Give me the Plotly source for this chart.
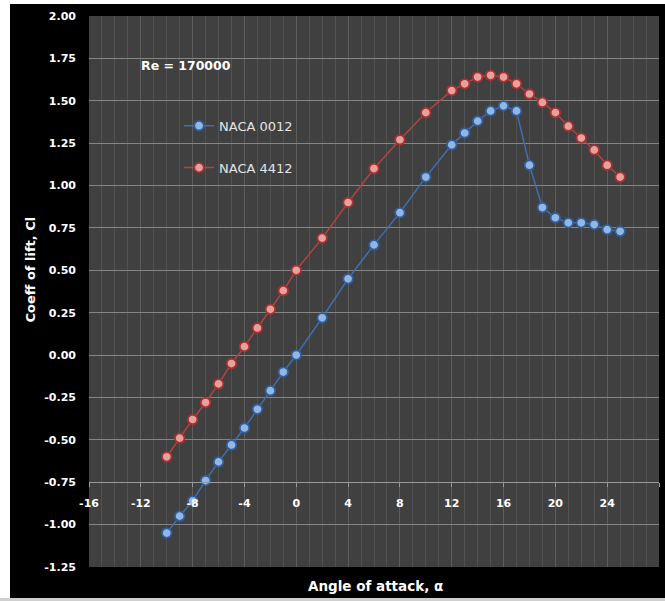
import plotly.graph_objects as go

# Angle of attack (degrees) and lift coefficient for the two airfoils, Re = 170000
aoa = [-10, -9, -8, -7, -6, -5, -4, -3, -2, -1, 0, 2, 4, 6, 8, 10, 12,
       13, 14, 15, 16, 17, 18, 19, 20, 21, 22, 23, 24, 25]

cl_naca0012 = [-1.05, -0.95, -0.86, -0.74, -0.63, -0.53, -0.43, -0.32, -0.21, -0.10,
               0.00, 0.22, 0.45, 0.65, 0.84, 1.05, 1.24,
               1.31, 1.38, 1.44, 1.47, 1.44, 1.12, 0.87, 0.81, 0.78, 0.78, 0.77, 0.74, 0.73]

cl_naca4412 = [-0.60, -0.49, -0.38, -0.28, -0.17, -0.05, 0.05, 0.16, 0.27, 0.38,
               0.50, 0.69, 0.90, 1.10, 1.27, 1.43, 1.56,
               1.60, 1.64, 1.65, 1.64, 1.60, 1.54, 1.49, 1.43, 1.35, 1.28, 1.21, 1.12, 1.05]

x_ticks = [-16, -12, -8, -4, 0, 4, 8, 12, 16, 20, 24, 28]
y_ticks = [-1.25, -1.00, -0.75, -0.50, -0.25, 0.00, 0.25, 0.50, 0.75, 1.00, 1.25, 1.50, 1.75, 2.00]

X_RANGE = [-16, 28]
Y_RANGE = [-1.25, 2.00]
X_AXIS_CROSS = -0.75  # horizontal axis crosses the value axis here

W, H = 665, 601
ML, MR, MT, MB = 89, 6, 16, 34
PW, PH = W - ML - MR, H - MT - MB

FONT = "DejaVu Sans"

fig = go.Figure()

fig.add_trace(go.Scatter(
    x=aoa, y=cl_naca0012, name="NACA 0012", mode="lines+markers",
    line=dict(color="#3f6fae", width=1.5),
    marker=dict(symbol="circle", size=9.5, color="#93b6e2",
                line=dict(color="#2f5f9f", width=1.8)),
    legendgroup="a",
))
fig.add_trace(go.Scatter(
    x=aoa, y=cl_naca4412, name="NACA 4412", mode="lines+markers",
    line=dict(color="#b2433f", width=1.5),
    marker=dict(symbol="circle", size=9.5, color="#e6a09d",
                line=dict(color="#a8322f", width=1.8)),
    legendgroup="b",
))

cross_pos = (X_AXIS_CROSS - Y_RANGE[0]) / (Y_RANGE[1] - Y_RANGE[0])

fig.update_layout(
    width=W, height=H,
    margin=dict(l=ML, r=MR, t=MT, b=MB),
    paper_bgcolor="black",
    plot_bgcolor="#404040",
    font=dict(family=FONT, color="white", size=11),
    showlegend=True,
    legend=dict(
        x=0.158, y=0.828, xanchor="left", yanchor="top",
        bgcolor="rgba(0,0,0,0)",
        font=dict(family=FONT, size=13, color="#e4e4e4"),
        tracegroupgap=22, itemwidth=30,
    ),
    xaxis=dict(
        range=X_RANGE, tickvals=x_ticks, ticktext=[str(v) for v in x_ticks],
        anchor="free", position=cross_pos,
        showgrid=True, gridcolor="#5e5e5e", gridwidth=1,
        minor=dict(dtick=1, showgrid=True, gridcolor="#525252", gridwidth=1),
        showline=True, linecolor="#9a9a9a", linewidth=1,
        ticks="outside", ticklen=4, tickcolor="#9a9a9a",
        ticklabelstandoff=7,
        tickfont=dict(family=FONT, size=11, color="white", weight="bold"),
        zeroline=False, fixedrange=True,
    ),
    yaxis=dict(
        range=Y_RANGE, tickvals=y_ticks, ticktext=[f"{v:.2f}" for v in y_ticks],
        showgrid=True, gridcolor="#858585", gridwidth=1,
        showline=False, ticks="",
        ticklabelstandoff=12,
        tickfont=dict(family=FONT, size=11, color="white", weight="bold"),
        zeroline=False, fixedrange=True,
    ),
)

fig.add_annotation(
    text="Re = 170000", xref="paper", yref="paper", x=0.088, y=0.91,
    xanchor="left", yanchor="middle", showarrow=False,
    font=dict(family=FONT, size=12.5, color="white", weight="bold"),
)
fig.add_annotation(
    text="Angle of attack, α", xref="paper", yref="paper", x=0.502, y=-0.016,
    xanchor="center", yanchor="top", showarrow=False,
    font=dict(family=FONT, size=13.5, color="white", weight="bold"),
)
fig.add_annotation(
    text="Coeff of lift, Cl", xref="paper", yref="paper", x=-0.1035, y=0.54,
    xanchor="center", yanchor="middle", textangle=-90, showarrow=False,
    font=dict(family=FONT, size=13, color="white", weight="bold"),
)

# white page edge around the black chart frame (kept inside the figure bounds)
px = lambda v: (v - ML) / PW
py = lambda v: 1 - (v - MT) / PH
fig.add_shape(type="rect", xref="paper", yref="paper",
              x0=px(0), x1=px(10), y0=py(H), y1=py(0),
              fillcolor="white", line_width=0, layer="above")
fig.add_shape(type="rect", xref="paper", yref="paper",
              x0=px(0), x1=px(W), y0=py(4), y1=py(0),
              fillcolor="white", line_width=0, layer="above")
fig.add_shape(type="rect", xref="paper", yref="paper",
              x0=px(0), x1=px(W), y0=py(H), y1=py(598),
              fillcolor="#cfcfcf", line_width=0, layer="above")

fig.write_html("out.html")
